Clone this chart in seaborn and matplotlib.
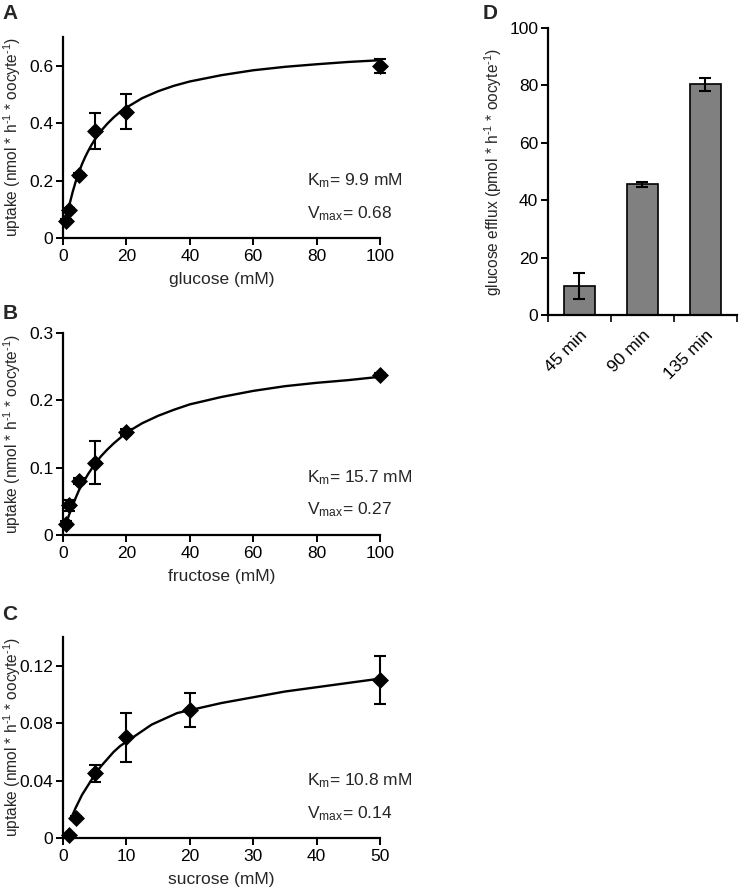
"""Sugar uptake kinetics (A-C) and glucose efflux (D), four panels."""

import numpy as np
import pandas as pd
import matplotlib

matplotlib.use("Agg")
import matplotlib.pyplot as plt
import seaborn as sns

# ---- Data ----------------------------------------------------------------
glc_conc = [1, 2, 5, 10, 20, 100]
glc_uptake = [0.060, 0.098, 0.220, 0.372, 0.440, 0.600]
glc_err = [0.006, 0.008, 0.008, 0.063, 0.060, 0.025]
glc_fit_x = [1, 1.5, 2, 3, 4, 5, 6, 7, 8, 9, 10, 12, 14, 16, 18, 20, 25,
             30, 35, 40, 50, 60, 70, 80, 90, 100]
glc_fit_y = [0.062, 0.089, 0.114, 0.158, 0.196, 0.228, 0.257, 0.282, 0.304,
             0.324, 0.342, 0.373, 0.398, 0.420, 0.439, 0.454, 0.487, 0.511,
             0.530, 0.545, 0.567, 0.584, 0.596, 0.605, 0.613, 0.619]

fru_conc = [1, 2, 5, 10, 20, 100]
fru_uptake = [0.017, 0.044, 0.080, 0.107, 0.153, 0.238]
fru_err = [0.004, 0.008, 0.004, 0.032, 0.005, 0.002]
fru_fit_x = [1, 1.5, 2, 3, 4, 5, 6, 7, 8, 9, 10, 12, 14, 16, 18, 20, 25,
             30, 35, 40, 50, 60, 70, 80, 90, 100]
fru_fit_y = [0.016, 0.024, 0.031, 0.043, 0.055, 0.066, 0.075, 0.083, 0.091,
             0.098, 0.105, 0.117, 0.127, 0.136, 0.144, 0.152, 0.166, 0.177,
             0.186, 0.194, 0.205, 0.214, 0.221, 0.226, 0.230, 0.235]

suc_conc = [1, 2, 5, 10, 20, 50]
suc_uptake = [0.002, 0.014, 0.045, 0.070, 0.089, 0.110]
suc_err = [0.001, 0.001, 0.006, 0.017, 0.012, 0.017]
suc_fit_x = [1.2, 1.5, 2, 3, 4, 5, 6, 7, 8, 9, 10, 12, 14, 16, 18, 20, 25,
             30, 35, 40, 45, 50]
suc_fit_y = [0.013, 0.016, 0.021, 0.030, 0.037, 0.044, 0.050, 0.055, 0.060,
             0.064, 0.067, 0.073, 0.079, 0.083, 0.087, 0.089, 0.094, 0.098,
             0.102, 0.105, 0.108, 0.111]

efflux_time = ["45 min", "90 min", "135 min"]
efflux_val = [10.0, 45.5, 80.3]
efflux_err = [4.6, 1.0, 2.3]

HY = "\u2010"  # plain hyphen for the "-1" exponents
UPTAKE_LABEL = f"uptake (nmol * h$^{{{HY}1}}$ * oocyte$^{{{HY}1}}$)"
EFFLUX_LABEL = f"glucose efflux (pmol * h$^{{{HY}1}}$ * oocyte$^{{{HY}1}}$)"

sns.set_theme(style="ticks")
plt.rcParams["font.family"] = ["Liberation Sans", "DejaVu Sans"]
plt.rcParams["mathtext.fontset"] = "custom"
plt.rcParams["mathtext.rm"] = "Liberation Sans"
plt.rcParams["mathtext.it"] = "Liberation Sans"

FS = 12.5
YL_FS = 11.2


def style_axis(ax):
    for side in ("top", "right"):
        ax.spines[side].set_visible(False)
    for side in ("left", "bottom"):
        ax.spines[side].set_linewidth(1.6)
        ax.spines[side].set_color("black")
    ax.tick_params(axis="both", direction="out", length=5, width=1.4,
                   labelsize=FS, colors="black", pad=3)
    ax.tick_params(axis="y", pad=2)


def kinetics_panel(ax, conc, uptake, err, fit_x, fit_y, xlabel,
                   xmax, xticks, ymax, yticks, km_text, vmax_text):
    sns.lineplot(x=fit_x, y=fit_y, ax=ax, color="black", linewidth=1.7)
    ax.errorbar(conc, uptake, yerr=err, fmt="none", ecolor="black",
                elinewidth=1.5, capsize=4, capthick=1.5, zorder=3,
                clip_on=False)
    sns.scatterplot(x=conc, y=uptake, ax=ax, marker="D", s=75,
                    color="black", linewidth=0, zorder=4, clip_on=False)
    ax.set_xlim(0, xmax)
    ax.set_ylim(0, ymax)
    ax.set_xticks(xticks)
    ax.set_yticks(yticks)
    ax.set_yticklabels([f"{t:g}" for t in yticks])
    ax.set_xlabel(xlabel, fontsize=FS, labelpad=6)
    ax.set_ylabel(UPTAKE_LABEL, fontsize=YL_FS)
    # same left offset in all three panels, whatever the tick label width
    ax.yaxis.set_label_coords(-0.127, 0.5)
    ax.text(0.77, 0.26, km_text, transform=ax.transAxes, fontsize=FS)
    ax.text(0.77, 0.10, vmax_text, transform=ax.transAxes, fontsize=FS)
    style_axis(ax)


fig = plt.figure(figsize=(7.4, 8.93), dpi=100)
ax_a = fig.add_axes([0.0851, 0.7335, 0.4284, 0.2251])
ax_b = fig.add_axes([0.0851, 0.4009, 0.4284, 0.2262])
ax_c = fig.add_axes([0.0851, 0.0616, 0.4284, 0.2251])
ax_d = fig.add_axes([0.7405, 0.6473, 0.2554, 0.3214])

kinetics_panel(ax_a, glc_conc, glc_uptake, glc_err, glc_fit_x, glc_fit_y,
               "glucose (mM)", 100, [0, 20, 40, 60, 80, 100],
               0.7, [0, 0.2, 0.4, 0.6],
               "K$_{\\mathrm{m}}$= 9.9 mM", "V$_{\\mathrm{max}}$= 0.68")
kinetics_panel(ax_b, fru_conc, fru_uptake, fru_err, fru_fit_x, fru_fit_y,
               "fructose (mM)", 100, [0, 20, 40, 60, 80, 100],
               0.3, [0, 0.1, 0.2, 0.3],
               "K$_{\\mathrm{m}}$= 15.7 mM", "V$_{\\mathrm{max}}$= 0.27")
kinetics_panel(ax_c, suc_conc, suc_uptake, suc_err, suc_fit_x, suc_fit_y,
               "sucrose (mM)", 50, [0, 10, 20, 30, 40, 50],
               0.14, [0, 0.04, 0.08, 0.12],
               "K$_{\\mathrm{m}}$= 10.8 mM", "V$_{\\mathrm{max}}$= 0.14")

# ---- Panel D: efflux bars ------------------------------------------------
efflux = pd.DataFrame({"time": efflux_time, "efflux": efflux_val})
sns.barplot(data=efflux, x="time", y="efflux", ax=ax_d, color="#808080",
            saturation=1, width=0.5, edgecolor="black", linewidth=1.2,
            errorbar=None)
ax_d.errorbar(np.arange(len(efflux_val)), efflux_val, yerr=efflux_err,
              fmt="none", ecolor="black", elinewidth=1.5, capsize=4,
              capthick=1.5)
ax_d.set_xlim(-0.5, 2.5)
ax_d.set_ylim(0, 100)
ax_d.set_yticks([0, 20, 40, 60, 80, 100])
ax_d.set_xlabel("")
ax_d.set_ylabel(EFFLUX_LABEL, fontsize=YL_FS)
ax_d.yaxis.set_label_coords(-0.235, 0.5)
style_axis(ax_d)
ax_d.set_xticks([-0.5, 0.5, 1.5, 2.5], minor=True)
ax_d.tick_params(axis="x", which="major", length=0, pad=9)
ax_d.tick_params(axis="x", which="minor", length=5, width=1.4)
for lab in ax_d.get_xticklabels():
    lab.set_rotation(45)
    lab.set_ha("right")
    lab.set_rotation_mode("anchor")

for ax, letter, (x, y) in [(ax_a, "A", (0.003, 0.995)),
                           (ax_b, "B", (0.003, 0.66)),
                           (ax_c, "C", (0.003, 0.322)),
                           (ax_d, "D", (0.652, 0.995))]:
    fig.text(x, y, letter, fontsize=15, fontweight="bold", va="top")

fig.savefig("out.png", dpi=100)
plt.close(fig)
